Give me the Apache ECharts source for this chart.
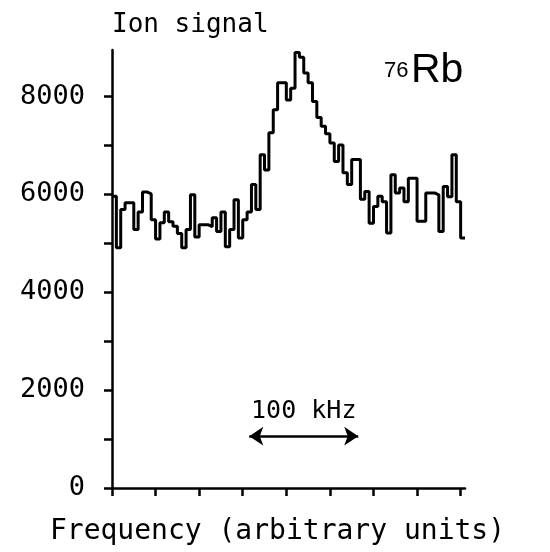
<!DOCTYPE html>
<html>
<head>
<meta charset="utf-8">
<script src="https://cdn.jsdelivr.net/npm/echarts@6/dist/echarts.min.js"></script>
<style>
  html, body { margin: 0; background: #fff; }
  #chart { width: 550px; height: 552px; }
</style>
</head>
<body>
<div id="chart"></div>
<script>
// ion signal per frequency bin (arbitrary units, bins of 0.1)
var binWidth = 0.1;
var ionCounts = [
  5960, 4910, 5690, 5830, 5830, 5280, 5640, 6050, 6010, 5480,
  5090, 5420, 5640, 5440, 5350, 5200, 4910, 5280, 5990, 5130,
  5380, 5380, 5340, 5520, 5240, 5640, 4930, 5280, 5890, 5110,
  5480, 5640, 6200, 5690, 6810, 6500, 7260, 7730, 8280, 8280,
  7930, 8170, 8900, 8800, 8480, 8280, 7900, 7570, 7390, 7240,
  7050, 6670, 7010, 6440, 6200, 6710, 6710, 5900, 6060, 5410,
  5750, 5960, 5850, 5210, 6400, 6030, 6130, 5850, 6330, 6330,
  5450, 5450, 6030, 6030, 5990, 5240, 6160, 5950, 6810, 5850,
  5110
];
var yTickValues = [0, 1000, 2000, 3000, 4000, 5000, 6000, 7000, 8000];
var yLabelValues = [0, 2000, 4000, 6000, 8000];
var xTickValues = [0, 1, 2, 3, 4, 5, 6, 7, 8];
// 100 kHz scale bar
var kHzSpan = [3.15, 5.65];
var kHzLevel = 1060;

var histo = ionCounts.map(function (v, i) { return [i * binWidth, v]; });
histo.push([ionCounts.length * binWidth, ionCounts[ionCounts.length - 1]]);

var chart = echarts.init(document.getElementById("chart"));

var option = {
  backgroundColor: "#fff",
  animation: false,
  grid: { left: 112, right: 85, top: 50, bottom: 64 },
  xAxis: {
    type: "value",
    min: 0,
    max: ionCounts.length * binWidth,
    name: "Frequency (arbitrary units)",
    nameLocation: "middle",
    nameGap: 30,
    nameTextStyle: {
      fontFamily: "DejaVu Sans Mono",
      fontSize: 28,
      color: "#000",
      padding: [0, 22, 0, 0]
    },
    axisLine: { lineStyle: { color: "#000", width: 2.5 } },
    axisTick: {
      customValues: xTickValues,
      length: 8,
      lineStyle: { color: "#000", width: 2.5 }
    },
    axisLabel: { show: false },
    splitLine: { show: false }
  },
  yAxis: {
    type: "value",
    min: 0,
    max: 8950,
    name: "Ion signal",
    nameLocation: "end",
    nameGap: 12,
    nameTextStyle: {
      fontFamily: "DejaVu Sans Mono",
      fontSize: 26,
      color: "#000",
      align: "left"
    },
    axisLine: { show: true, lineStyle: { color: "#000", width: 2.5 } },
    axisTick: {
      show: true,
      customValues: yTickValues,
      length: 8,
      lineStyle: { color: "#000", width: 2.5 }
    },
    axisLabel: {
      customValues: yLabelValues,
      formatter: function (v) { return String(v); },
      margin: 27,
      fontFamily: "DejaVu Sans Mono",
      fontSize: 27,
      color: "#000"
    },
    splitLine: { show: false }
  },
  series: [
    {
      type: "line",
      step: "end",
      data: histo,
      symbol: "none",
      lineStyle: { color: "#000", width: 3 },
      markLine: {
        silent: true,
        symbol: ["arrow", "arrow"],
        symbolSize: 14,
        lineStyle: { color: "#000", width: 2.5, type: "solid" },
        label: {
          show: true,
          position: "insideMiddleTop",
          distance: 12,
          formatter: "100 kHz",
          fontFamily: "DejaVu Sans Mono",
          fontSize: 25,
          color: "#000"
        },
        data: [
          [
            { coord: [kHzSpan[0], kHzLevel] },
            { coord: [kHzSpan[1], kHzLevel] }
          ]
        ]
      }
    }
  ],
  graphic: [
    {
      type: "text",
      left: 384,
      top: 60,
      style: { text: "76", font: "22px 'Liberation Sans'", fill: "#000" }
    },
    {
      type: "text",
      left: 411,
      top: 50,
      style: { text: "Rb", font: "41px 'Liberation Sans'", fill: "#000" }
    }
  ]
};

chart.setOption(option);
</script>
</body>
</html>
